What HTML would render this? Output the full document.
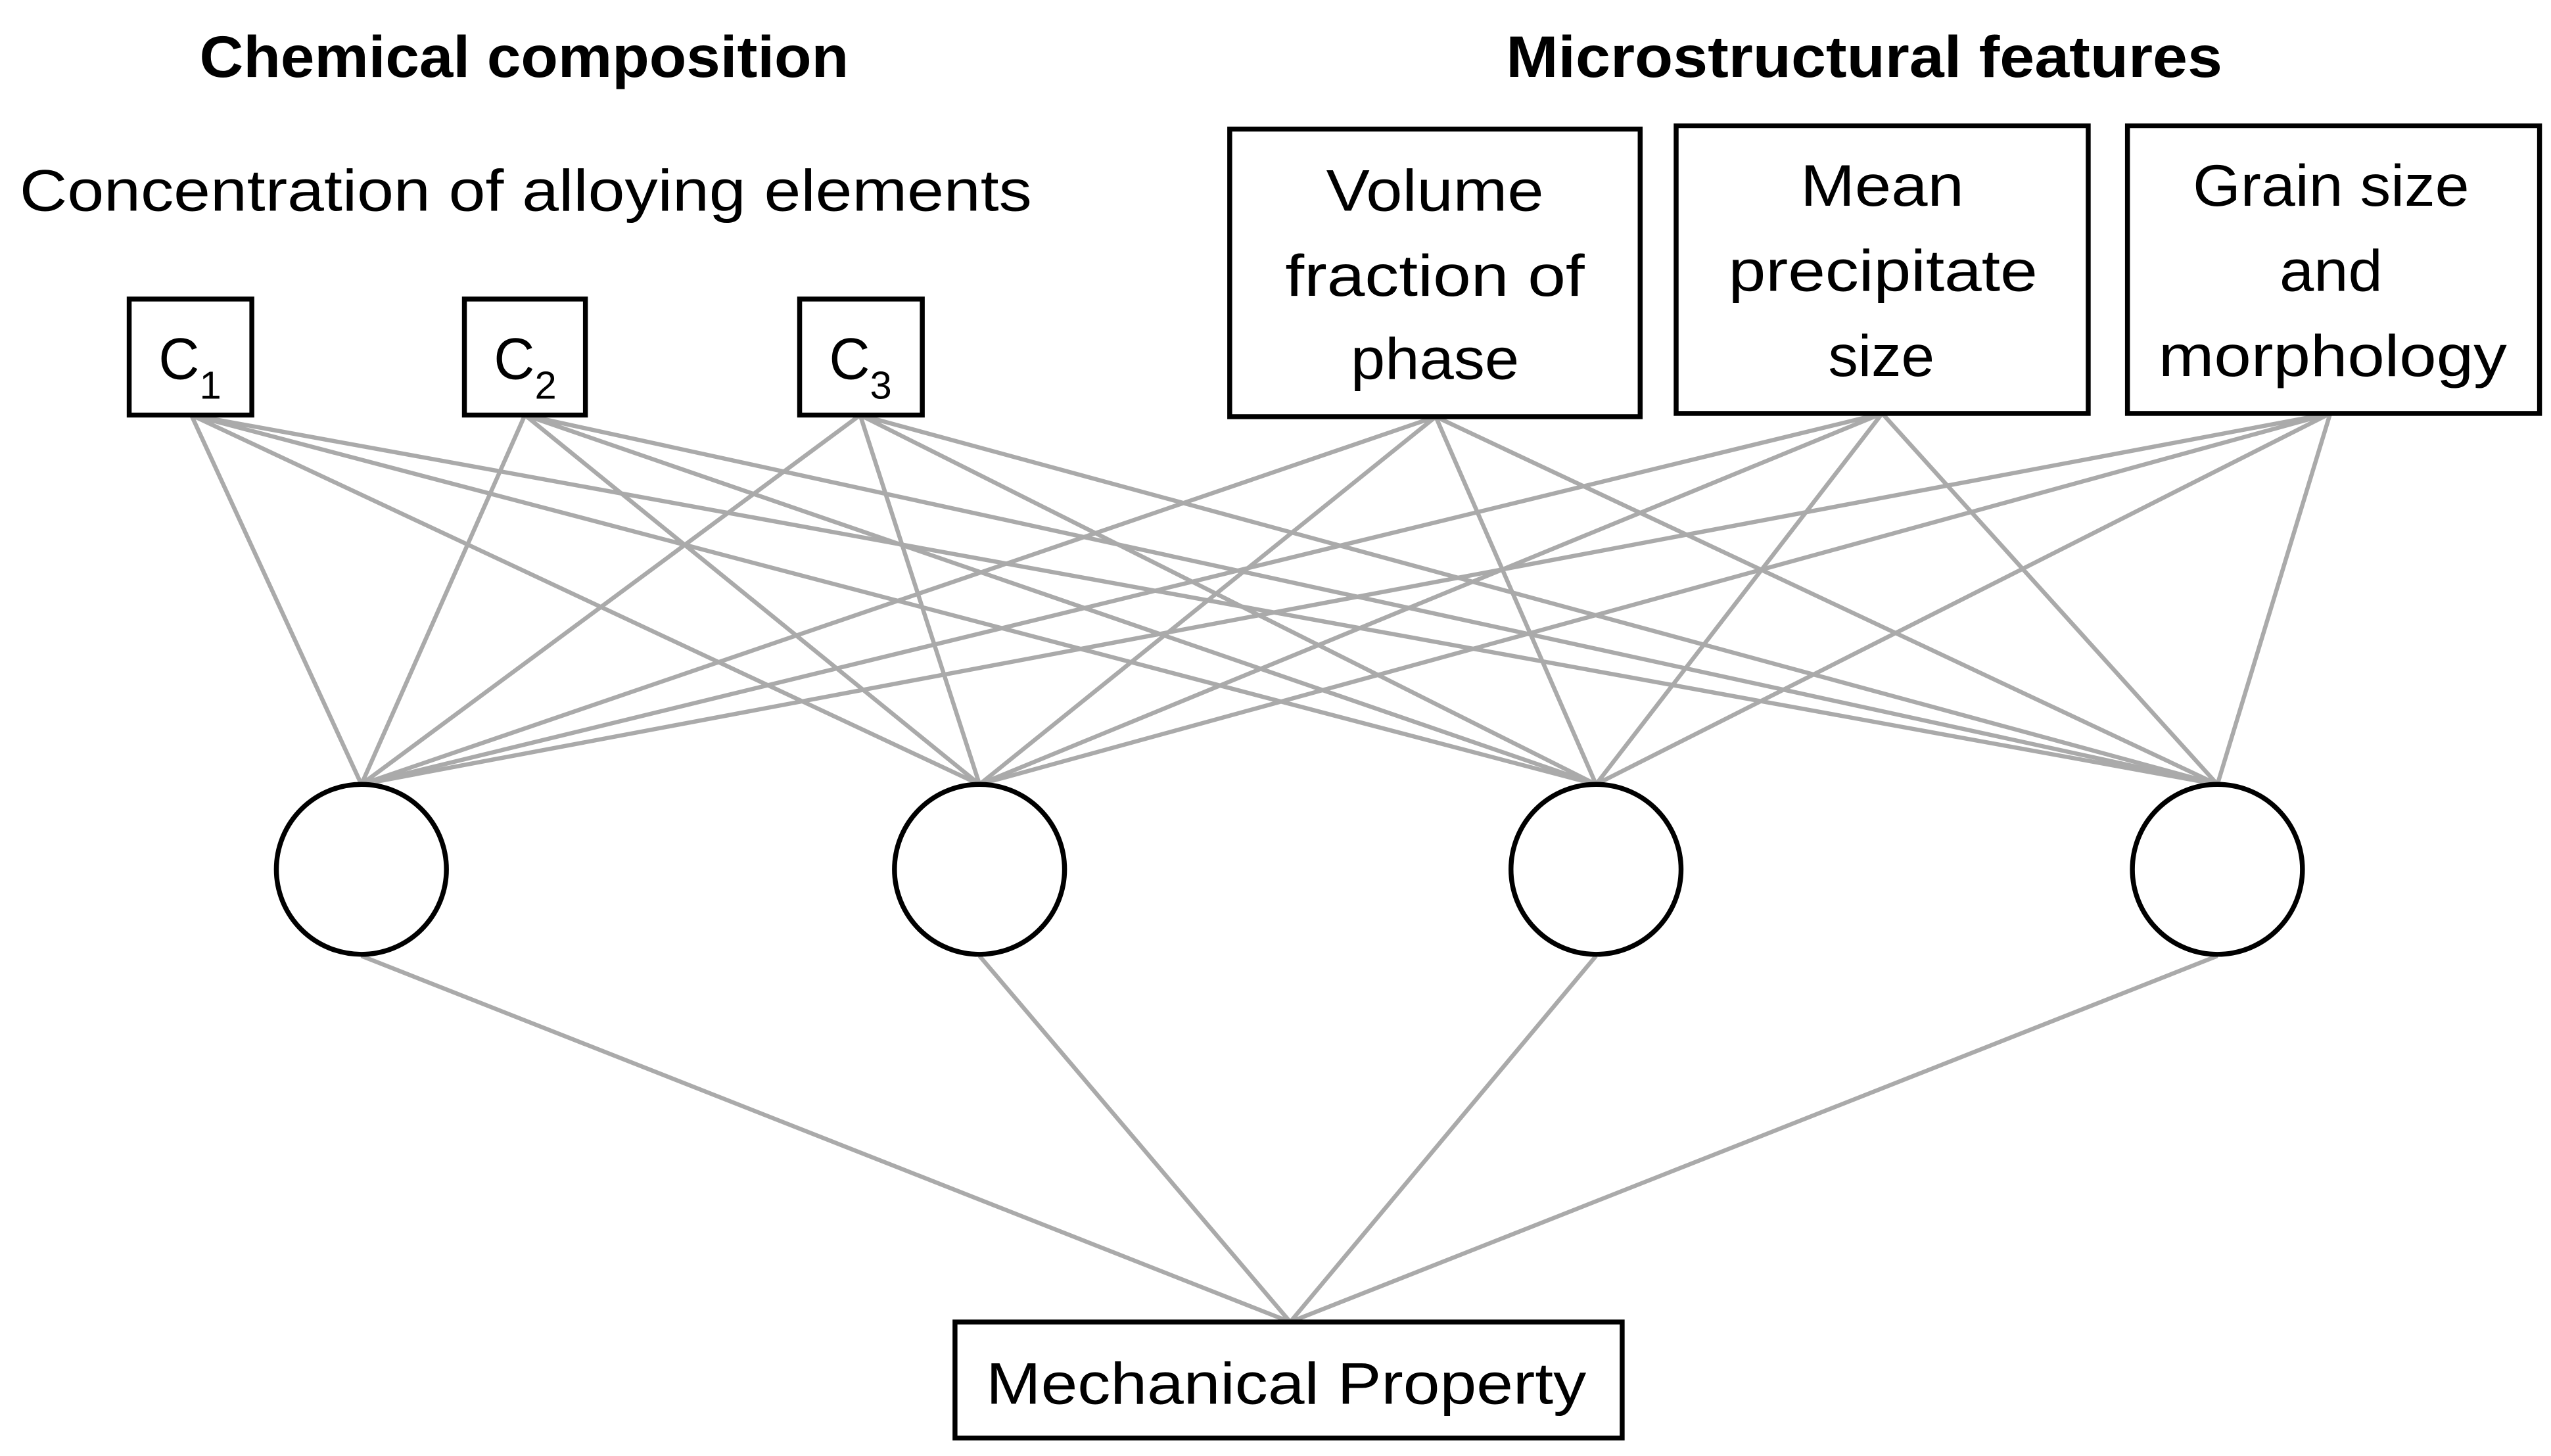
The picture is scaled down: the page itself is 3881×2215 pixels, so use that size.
<!DOCTYPE html>
<html><head><meta charset="utf-8"><style>html,body{margin:0;padding:0;background:#fff}svg{display:block}</style></head>
<body>
<svg width="3881" height="2215" viewBox="0 0 1560 891" preserveAspectRatio="none" xmlns="http://www.w3.org/2000/svg" font-family="Liberation Sans, sans-serif">
<rect width="1560" height="891" fill="#fff"/>
<g stroke="#aaa" stroke-width="2.6" fill="none">
<path d="M117 254L221 480M117 254L599 480M117 254L976 480M117 254L1356 480"/>
<path d="M321 254L221 480M321 254L599 480M321 254L976 480M321 254L1356 480"/>
<path d="M526 254L221 480M526 254L599 480M526 254L976 480M526 254L1356 480"/>
<path d="M878 255L221 480M878 255L599 480M878 255L976 480M878 255L1356 480"/>
<path d="M1151 253L221 480M1151 253L599 480M1151 253L976 480M1151 253L1356 480"/>
<path d="M1425 253L221 480M1425 253L599 480M1425 253L976 480M1425 253L1356 480"/>
<path d="M221 585L789 809M599 585L789 809M976 585L789 809M1356 585L789 809"/>
</g>
<g stroke="#000" stroke-width="3" fill="#fff">
<rect x="79" y="183" width="75" height="71"/>
<rect x="284" y="183" width="74" height="71"/>
<rect x="489" y="183" width="75" height="71"/>
<rect x="752" y="79" width="251" height="176"/>
<rect x="1025" y="77" width="252" height="176"/>
<rect x="1301" y="77" width="252" height="176"/>
<rect x="584" y="809" width="408" height="71"/>
<ellipse cx="221" cy="532" rx="52" ry="52"/>
<ellipse cx="599" cy="532" rx="52" ry="52"/>
<ellipse cx="976" cy="532" rx="52" ry="52"/>
<ellipse cx="1356" cy="532" rx="52" ry="52"/>
</g>
<g fill="#000" font-size="36">
<text x="122" y="47" font-weight="bold" textLength="397" lengthAdjust="spacingAndGlyphs">Chemical composition</text>
<text x="921" y="47" font-weight="bold" textLength="438" lengthAdjust="spacingAndGlyphs">Microstructural features</text>
<text x="12" y="129" textLength="619" lengthAdjust="spacingAndGlyphs">Concentration of alloying elements</text>
<text x="97" y="232" textLength="25" lengthAdjust="spacingAndGlyphs">C</text><text x="122" y="244" font-size="24">1</text>
<text x="302" y="232" textLength="25" lengthAdjust="spacingAndGlyphs">C</text><text x="327" y="244" font-size="24">2</text>
<text x="507" y="232" textLength="25" lengthAdjust="spacingAndGlyphs">C</text><text x="532" y="244" font-size="24">3</text>
<text x="811" y="129" textLength="133" lengthAdjust="spacingAndGlyphs">Volume</text>
<text x="786" y="181" textLength="183" lengthAdjust="spacingAndGlyphs">fraction of</text>
<text x="826" y="232" textLength="103" lengthAdjust="spacingAndGlyphs">phase</text>
<text x="1101" y="126" textLength="100" lengthAdjust="spacingAndGlyphs">Mean</text>
<text x="1057" y="178" textLength="189" lengthAdjust="spacingAndGlyphs">precipitate</text>
<text x="1118" y="230" textLength="65" lengthAdjust="spacingAndGlyphs">size</text>
<text x="1341" y="126" textLength="169" lengthAdjust="spacingAndGlyphs">Grain size</text>
<text x="1394" y="178" textLength="63" lengthAdjust="spacingAndGlyphs">and</text>
<text x="1320" y="230" textLength="213" lengthAdjust="spacingAndGlyphs">morphology</text>
<text x="603" y="859" textLength="367" lengthAdjust="spacingAndGlyphs">Mechanical Property</text>
</g>
</svg>
</body></html>
